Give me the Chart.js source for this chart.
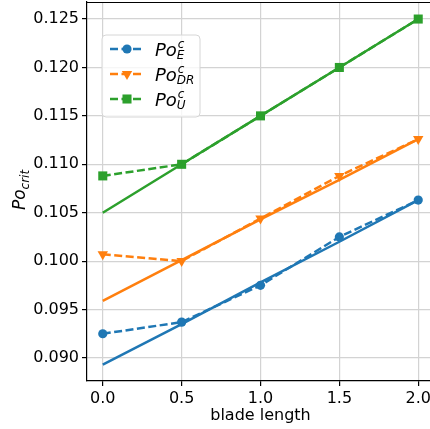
<!DOCTYPE html>
<html>
<head>
<meta charset="utf-8">
<script src="https://cdn.jsdelivr.net/npm/chart.js@4/dist/chart.umd.min.js"></script>
<style>
html,body{margin:0;padding:0;background:#fff;overflow:hidden;}
canvas{display:block;}
</style>
</head>
<body>
<canvas id="c" width="434" height="429"></canvas>
<script>
const bladeLength = [0.0, 0.5, 1.0, 1.5, 2.0];
const poE  = [0.0925, 0.0937, 0.0975, 0.1025, 0.1063];
const poDR = [0.1007, 0.1000, 0.1044, 0.1088, 0.1126];
const poU  = [0.1088, 0.1100, 0.1150, 0.1200, 0.1250];
const fitE  = [0.0893, 0.0935, 0.0978, 0.1020, 0.1063];
const fitDR = [0.0959, 0.1001, 0.1043, 0.1084, 0.1126];
const fitU  = [0.1050, 0.1100, 0.1150, 0.1200, 0.1250];
const xTicks = [0.0, 0.5, 1.0, 1.5, 2.0];
const yTicks = [0.090, 0.095, 0.100, 0.105, 0.110, 0.115, 0.120, 0.125];
const seriesNames = [['E'], ['DR'], ['U']];

const C = ['#1f77b4', '#ff7f0e', '#2ca02c'];
const pts = (ys) => bladeLength.map((x, i) => ({x: x, y: ys[i]}));
const FONT = 'DejaVu Sans';
const LW = 2.5;
const DASH = [8, 3.5];
const MARK = [{style: 'circle', r: 4.6, rot: 0}, {style: 'triangle', r: 6, rot: 180}, {style: 'rect', r: 6.4, rot: 0}];

function dashed(ys, i, ord) {
  return {data: pts(ys), borderColor: C[i], backgroundColor: C[i], borderWidth: LW,
    borderDash: DASH, pointStyle: MARK[i].style, pointRotation: MARK[i].rot, pointRadius: MARK[i].r,
    pointBorderWidth: 0, showLine: true, order: ord, tension: 0};
}
function solid(ys, i, ord) {
  return {data: pts(ys), borderColor: C[i], borderWidth: LW, pointRadius: 0,
    showLine: true, order: ord, tension: 0};
}

function drawMath(ctx, x, y, base, sup, sub, size) {
  ctx.font = 'italic ' + size + 'px "' + FONT + '"';
  ctx.textBaseline = 'alphabetic';
  ctx.textAlign = 'left';
  ctx.fillText(base, x, y);
  const w = ctx.measureText(base).width;
  const s2 = Math.round(size * 0.68);
  ctx.font = 'italic ' + s2 + 'px "' + FONT + '"';
  if (sup) ctx.fillText(sup, x + w + 1, y - size * 0.44);
  if (sub) ctx.fillText(sub, x + w, y + size * 0.14);
}

const extras = {
  id: 'extras',
  afterDraw(chart) {
    const ctx = chart.ctx, a = chart.chartArea;
    ctx.save();
    ctx.strokeStyle = '#000'; ctx.lineWidth = 1.2;
    ctx.beginPath(); ctx.moveTo(a.left, a.top + 0.5); ctx.lineTo(a.right, a.top + 0.5); ctx.stroke();
    // legend
    const bx = 102, by = 35, bw = 98, bh = 82, r = 4;
    ctx.fillStyle = 'rgba(255,255,255,0.8)';
    ctx.strokeStyle = '#d6d6d6'; ctx.lineWidth = 1;
    ctx.beginPath();
    ctx.moveTo(bx + r, by); ctx.lineTo(bx + bw - r, by); ctx.arcTo(bx + bw, by, bx + bw, by + r, r);
    ctx.lineTo(bx + bw, by + bh - r); ctx.arcTo(bx + bw, by + bh, bx + bw - r, by + bh, r);
    ctx.lineTo(bx + r, by + bh); ctx.arcTo(bx, by + bh, bx, by + bh - r, r);
    ctx.lineTo(bx, by + r); ctx.arcTo(bx, by, bx + r, by, r);
    ctx.closePath(); ctx.fill(); ctx.stroke();
    const rows = [49, 74, 99];
    rows.forEach((ry, i) => {
      ctx.strokeStyle = C[i]; ctx.fillStyle = C[i]; ctx.lineWidth = LW;
      ctx.setLineDash(DASH);
      ctx.beginPath(); ctx.moveTo(110, ry); ctx.lineTo(143, ry); ctx.stroke();
      ctx.setLineDash([]);
      Chart.helpers.drawPoint(ctx, {pointStyle: MARK[i].style, radius: MARK[i].r, rotation: MARK[i].rot, borderWidth: 0}, 127, ry);
      ctx.fillStyle = '#000';
      drawMath(ctx, 155, ry + 7, 'Po', 'c', seriesNames[i][0], 18);
    });
    // y title
    ctx.translate(25, 190);
    ctx.rotate(-Math.PI / 2);
    ctx.fillStyle = '#000';
    ctx.font = 'italic 17px "' + FONT + '"';
    const t = 'Po', sub = 'crit';
    const w1 = ctx.measureText(t).width;
    ctx.font = 'italic 12px "' + FONT + '"';
    const w2 = ctx.measureText(sub).width;
    const x0 = -(w1 + w2) / 2;
    ctx.textBaseline = 'alphabetic'; ctx.textAlign = 'left';
    ctx.font = 'italic 17px "' + FONT + '"';
    ctx.fillText(t, x0, 0);
    ctx.font = 'italic 12px "' + FONT + '"';
    ctx.fillText(sub, x0 + w1, 4);
    ctx.restore();
  }
};

new Chart(document.getElementById('c'), {
  type: 'scatter',
  data: {datasets: [
    dashed(poE, 0, 6),
    solid(fitE, 0, 5),
    dashed(poDR, 1, 4),
    solid(fitDR, 1, 3),
    dashed(poU, 2, 2),
    solid(fitU, 2, 1)
  ]},
  options: {
    responsive: false, animation: false, devicePixelRatio: 1,
    layout: {autoPadding: false, padding: {top: 2, left: 0, right: 0, bottom: 0}},
    plugins: {legend: {display: false}, tooltip: {enabled: false}},
    scales: {
      x: {type: 'linear', min: -0.1, max: 2.1,
        afterBuildTicks: (ax) => { ax.ticks = xTicks.map(v => ({value: v})); },
        afterFit: (ax) => { ax.height = 48; ax.paddingLeft = 0; ax.paddingRight = 0; },
        ticks: {color: '#000', font: {family: FONT, size: 16}, padding: 3,
          callback: (v) => v.toFixed(1), maxRotation: 0},
        grid: {color: '#d3d3d3', lineWidth: 1.2, tickColor: '#000', tickLength: 5},
        border: {color: '#000', width: 1.2},
        title: {display: true, text: 'blade length', color: '#000', font: {family: FONT, size: 16}, padding: {top: 0, bottom: 4}}
      },
      y: {type: 'linear', min: 0.08762, max: 0.12676,
        afterBuildTicks: (ax) => { ax.ticks = yTicks.map(v => ({value: v})); },
        afterFit: (ax) => { ax.width = 87; ax.paddingTop = 0; ax.paddingBottom = 0; },
        ticks: {color: '#000', font: {family: FONT, size: 16}, padding: 3,
          callback: (v) => v.toFixed(3)},
        grid: {color: '#d3d3d3', lineWidth: 1.2, tickColor: '#000', tickLength: 5},
        border: {color: '#000', width: 1.2}
      }
    }
  },
  plugins: [extras]
});
</script>
</body>
</html>
